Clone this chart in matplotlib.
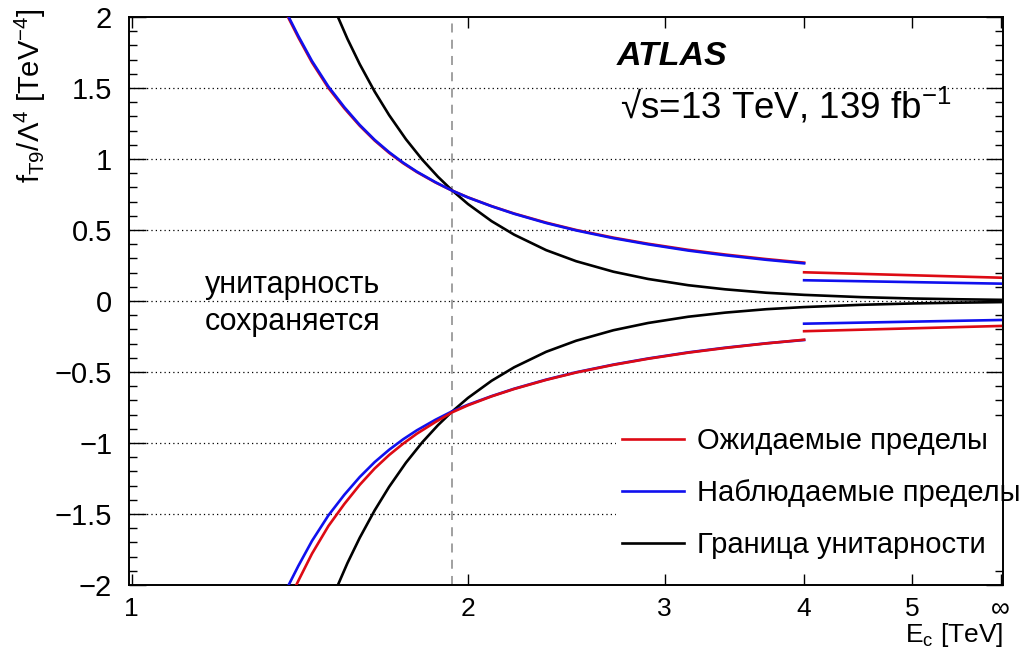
import numpy as np
import matplotlib
matplotlib.use("Agg")
import matplotlib.pyplot as plt
from matplotlib.ticker import FixedLocator, NullLocator, MultipleLocator, FixedFormatter, FuncFormatter

plt.rcParams['font.family'] = ['Liberation Sans', 'DejaVu Sans']
plt.rcParams['mathtext.fontset'] = 'custom'
plt.rcParams['mathtext.rm'] = 'Liberation Sans'
plt.rcParams['mathtext.it'] = 'Liberation Sans:italic'
plt.rcParams['mathtext.bf'] = 'Liberation Sans:bold'

# ---- data ----
# unitarity bound (black), symmetric
E_unit = [1.52, 1.56, 1.60, 1.65, 1.70, 1.76, 1.82, 1.88, 1.935, 2.0, 2.1, 2.2, 2.35,
          2.5, 2.7, 2.9, 3.15, 3.4, 3.7, 4.0, 4.5, 5.0, 5.5, 6.0]
f_unit = [2.05, 1.846, 1.668, 1.475, 1.309, 1.139, 0.996, 0.875, 0.780, 0.683, 0.562,
          0.467, 0.358, 0.280, 0.206, 0.155, 0.111, 0.082, 0.058, 0.043, 0.027, 0.0175,
          0.012, 0.008]

# expected / observed limits, finite E_c segment
E_lim = [1.38, 1.41, 1.45, 1.50, 1.55, 1.60, 1.65, 1.70, 1.75, 1.80, 1.87, 1.935,
         2.0, 2.1, 2.2, 2.35, 2.5, 2.7, 2.9, 3.15, 3.4, 3.7, 4.0]
f_exp_up = [2.00, 1.855, 1.68, 1.50, 1.357, 1.234, 1.130, 1.043, 0.970, 0.908, 0.835, 0.778,
            0.730, 0.668, 0.616, 0.552, 0.500, 0.446, 0.403, 0.360, 0.327, 0.295, 0.270]
f_obs_up = [2.01, 1.865, 1.69, 1.51, 1.365, 1.24, 1.135, 1.048, 0.974, 0.911, 0.837, 0.778,
            0.729, 0.667, 0.614, 0.549, 0.497, 0.442, 0.399, 0.355, 0.322, 0.290, 0.265]
f_exp_dn = [-2.12, -1.97, -1.78, -1.585, -1.43, -1.295, -1.18, -1.085, -1.005, -0.935, -0.853,
            -0.785, -0.735, -0.672, -0.620, -0.556, -0.504, -0.450, -0.407, -0.364, -0.331,
            -0.299, -0.273]
f_obs_dn = [-2.01, -1.865, -1.69, -1.51, -1.365, -1.24, -1.135, -1.048, -0.974, -0.911, -0.837,
            -0.778, -0.731, -0.670, -0.618, -0.554, -0.502, -0.448, -0.405, -0.362, -0.329,
            -0.298, -0.275]

# E_c -> infinity segment
E_inf = [4.0, 6.0]
f_exp_inf_up = [0.202, 0.164]
f_exp_inf_dn = [-0.213, -0.176]
f_obs_inf_up = [0.146, 0.122]
f_obs_inf_dn = [-0.160, -0.134]

E_cross = 1.935
x_ticks = [1, 2, 3, 4, 5, 6]
x_ticklabels = ['1', '2', '3', '4', '5', '\u221e']
y_grid = [-1.5, -1.0, -0.5, 0.0, 0.5, 1.0, 1.5]

RED = '#dd0a14'
BLUE = '#1010ee'
BLACK = '#000000'

fig = plt.figure(figsize=(10.31, 6.55), dpi=100)
ax = fig.add_axes([0.125, 0.107, 0.848, 0.867])
ax.set_xscale('log')
ax.set_xlim(0.994, 6.03)
ax.set_ylim(-2, 2)

for yv in y_grid:
    ax.axhline(yv, color='black', lw=0.9, ls=(0, (1, 2.5)), zorder=1)
ax.axvline(E_cross, color='#999999', lw=1.3, ls=(0, (5, 4)), zorder=1)

lw = 1.9
ax.plot(E_unit, f_unit, color=BLACK, lw=lw, zorder=3)
ax.plot(E_unit, [-v for v in f_unit], color=BLACK, lw=lw, zorder=3)
ax.plot(E_lim, f_exp_up, color=RED, lw=lw, zorder=3)
ax.plot(E_lim, f_obs_up, color=BLUE, lw=lw, zorder=4)
ax.plot(E_lim, f_obs_dn, color=BLUE, lw=lw, zorder=4)
ax.plot(E_lim, f_exp_dn, color=RED, lw=lw, zorder=5)
ax.plot(E_inf, f_exp_inf_up, color=RED, lw=lw, zorder=3)
ax.plot(E_inf, f_exp_inf_dn, color=RED, lw=lw, zorder=3)
ax.plot(E_inf, f_obs_inf_up, color=BLUE, lw=lw, zorder=3)
ax.plot(E_inf, f_obs_inf_dn, color=BLUE, lw=lw, zorder=3)

ax.xaxis.set_major_locator(FixedLocator(x_ticks))
ax.xaxis.set_major_formatter(FixedFormatter(x_ticklabels))
ax.xaxis.set_minor_locator(NullLocator())
ax.yaxis.set_major_locator(MultipleLocator(0.5))
ax.yaxis.set_minor_locator(MultipleLocator(0.1))
ax.yaxis.set_major_formatter(FuncFormatter(lambda v, p: ('%g' % v).replace('-', '\u2212')))
ax.tick_params(axis='both', which='both', direction='in', top=True, right=True, width=1.0)
ax.tick_params(axis='x', labelsize=19)
ax.tick_params(axis='y', labelsize=21)
ax.tick_params(axis='y', which='major', length=12, pad=12)
ax.tick_params(axis='y', which='minor', length=6)
ax.tick_params(axis='x', which='major', length=8, pad=9)
for s in ax.spines.values():
    s.set_linewidth(1.4)

ax.set_xlabel('E$_\\mathregular{c}$ [TeV]', fontsize=19, loc='right', labelpad=0)
fig.text(30 / 1031, 1 - 8 / 655,
         'f$_\\mathregular{T9}$/\u039b$^\\mathregular{4}$ [TeV$^\\mathregular{-4}$]',
         fontsize=21, rotation=90, ha='center', va='top')

ax.text(0.558, 0.930, 'ATLAS', transform=ax.transAxes, fontsize=24.5,
        fontweight='bold', fontstyle='italic', va='center')
ax.text(0.562, 0.843, '\u221as=13 TeV, 139 fb$^\\mathregular{-1}$', transform=ax.transAxes,
        fontsize=26.5, va='center')
ax.text(0.087, 0.495, 'унитарность\nсохраняется', transform=ax.transAxes,
        fontsize=22, va='center', linespacing=1.3)

handles = [plt.Line2D([], [], color=RED, lw=lw),
           plt.Line2D([], [], color=BLUE, lw=lw),
           plt.Line2D([], [], color=BLACK, lw=lw)]
labels = ['Ожидаемые пределы', 'Наблюдаемые пределы', 'Граница унитарности']
leg = ax.legend(handles, labels, loc='lower left', bbox_to_anchor=(0.557, 0.035),
                frameon=True, fontsize=21, handlelength=2.15, handletextpad=0.42,
                labelspacing=0.83, borderpad=0.2, borderaxespad=0.0)
leg.get_frame().set_facecolor('white')
leg.get_frame().set_edgecolor('none')
leg.get_frame().set_alpha(1.0)
leg.set_zorder(2)
leg.set_clip_on(False)

fig.savefig('out.png', dpi=100)
